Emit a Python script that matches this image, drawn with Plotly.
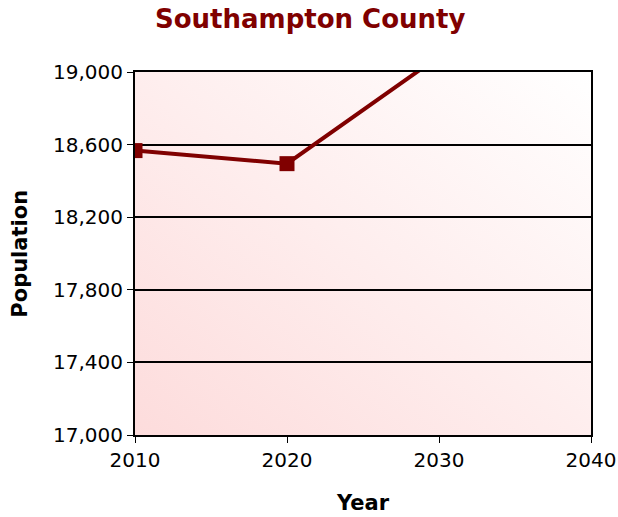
import base64
import plotly.graph_objects as go

years = [2010, 2020, 2030]
population = [18567, 18495, 19086]
y_ticks = [17000, 17400, 17800, 18200, 18600, 19000]
y_tick_labels = ["17,000", "17,400", "17,800", "18,200", "18,600", "19,000"]
x_ticks = [2010, 2020, 2030, 2040]

line_color = "#800000"
font_family = "DejaVu Sans, Verdana, sans-serif"

svg = (
    '<svg xmlns="http://www.w3.org/2000/svg" width="456" height="363" viewBox="0 0 456 363" preserveAspectRatio="none">'
    '<defs><linearGradient id="g" x1="0" y1="1" x2="1" y2="0">'
    '<stop offset="0" stop-color="#fddcdc"/>'
    '<stop offset="1" stop-color="#ffffff"/>'
    '</linearGradient></defs>'
    '<rect x="0" y="0" width="456" height="363" fill="url(#g)"/></svg>'
)
svg_uri = "data:image/svg+xml;base64," + base64.b64encode(svg.encode()).decode()

fig = go.Figure()
fig.add_trace(go.Scatter(
    x=years, y=population, mode="lines+markers",
    line=dict(color=line_color, width=4),
    marker=dict(symbol="square", size=15, color=line_color),
    cliponaxis=True, showlegend=False,
))

fig.add_layout_image(dict(
    source=svg_uri, xref="paper", yref="paper", x=0, y=1,
    sizex=1, sizey=1, sizing="stretch", layer="below",
    xanchor="left", yanchor="top",
))

fig.add_annotation(text="<b>Population</b>", xref="paper", yref="paper",
                   x=-0.254, y=0.5, textangle=-90, showarrow=False,
                   xanchor="center", yanchor="middle",
                   font=dict(family=font_family, size=21, color="black"))
fig.add_annotation(text="<b>Year</b>", xref="paper", yref="paper",
                   x=0.5, y=-0.187, showarrow=False,
                   xanchor="center", yanchor="middle",
                   font=dict(family=font_family, size=21, color="black"))

fig.update_layout(
    width=618, height=517,
    margin=dict(l=135, r=27, t=72, b=82, autoexpand=False),
    paper_bgcolor="white", plot_bgcolor="rgba(0,0,0,0)",
    title=dict(text="<b>Southampton County</b>", x=0.502, xanchor="center",
               y=0.963, yanchor="middle",
               font=dict(family=font_family, size=26, color=line_color)),
    font=dict(family=font_family, size=20, color="black"),
)
fig.update_xaxes(
    range=[2010, 2040], tickvals=x_ticks, ticks="outside", ticklen=6,
    tickcolor="black", showline=True, linecolor="black", linewidth=2,
    mirror=True, showgrid=False, zeroline=False, automargin=False,
)
fig.update_yaxes(
    range=[17000, 19000], tickvals=y_ticks, ticktext=y_tick_labels,
    ticks="outside", ticklen=6, tickcolor="black",
    showline=True, linecolor="black", linewidth=2, mirror=True,
    showgrid=True, gridcolor="black", gridwidth=2, zeroline=False,
    automargin=False,
)

page_fix = (
    "document.body.style.margin='0';"
    "document.body.style.overflow='hidden';"
    "document.documentElement.style.overflow='hidden';"
)
fig.write_html("out.html", post_script=page_fix,
               config={"displayModeBar": False, "staticPlot": True})
